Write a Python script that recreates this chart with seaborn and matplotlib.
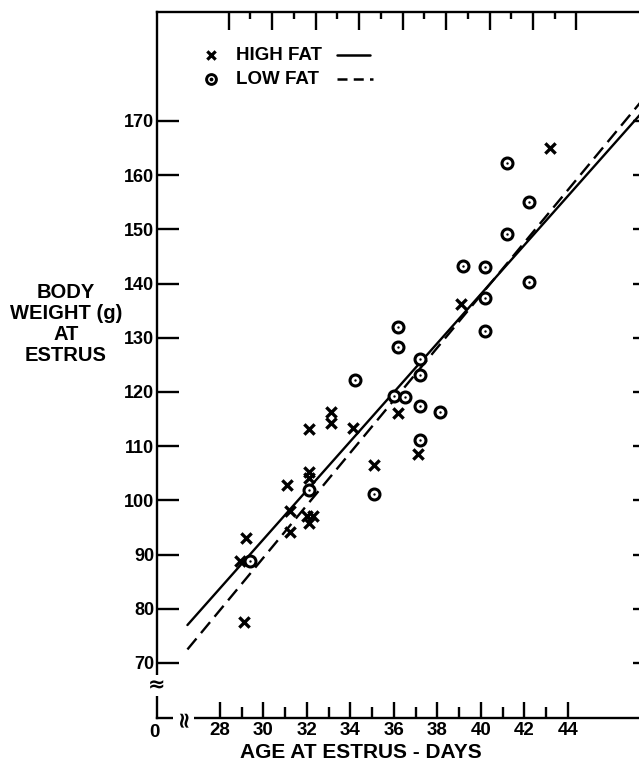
import matplotlib
matplotlib.use("Agg")
import matplotlib.pyplot as plt
import matplotlib.transforms as mtransforms
import numpy as np
import pandas as pd
import seaborn as sns

# ---------------- data ----------------
hf_age = [29.1, 28.9, 29.2, 31.1, 31.2, 31.2, 32.1, 32.1, 32.1, 32.0, 32.3, 32.1,
          33.1, 33.1, 34.1, 35.1, 36.2, 37.1, 39.1, 43.2]
hf_wt = [77.6, 88.8, 93.0, 102.9, 98.0, 94.1, 113.1, 105.2, 104.2, 97.1, 97.1, 95.8,
         116.3, 114.3, 113.3, 106.5, 116.2, 108.5, 136.3, 165.0]

lf_age = [29.4, 32.1, 35.1, 37.2, 34.2, 36.0, 36.5, 37.2, 38.1, 36.2, 36.2, 37.2,
          37.2, 39.2, 40.2, 40.2, 40.2, 41.2, 42.2, 41.2, 42.2]
lf_wt = [88.8, 102.0, 101.2, 111.2, 122.2, 119.2, 119.1, 117.4, 116.3, 132.0, 128.3,
         126.1, 123.2, 143.3, 143.1, 137.3, 131.3, 162.2, 155.1, 149.1, 140.3]

# fitted lines (end points)
hf_line_age = [26.5, 47.4]
hf_line_wt = [77.0, 171.5]
lf_line_age = [26.5, 47.4]
lf_line_wt = [72.5, 173.7]

x_major = [28, 30, 32, 34, 36, 38, 40, 42, 44]
x_minor = [29, 31, 33, 35, 37, 39, 41, 43]
y_ticks = [70, 80, 90, 100, 110, 120, 130, 140, 150, 160, 170]

legend_labels = ["HIGH FAT", "LOW FAT"]
x_label = "AGE AT ESTRUS - DAYS"
y_label = "BODY\nWEIGHT (g)\nAT\nESTRUS"

# ---------------- figure ----------------
sns.set_theme(style="white")
plt.rcParams["font.family"] = ["Liberation Sans", "DejaVu Sans"]
plt.rcParams["font.weight"] = "bold"
plt.rcParams["text.color"] = "black"
plt.rcParams["xtick.color"] = "black"
plt.rcParams["ytick.color"] = "black"

W, H = 639, 764
fig = plt.figure(figsize=(W / 100, H / 100), dpi=100)
ax_left, ax_right, ax_top, ax_bot = 157, 641, 12, 718
ax = fig.add_axes([ax_left / W, (H - ax_bot) / H, (ax_right - ax_left) / W, (ax_bot - ax_top) / H])
ax.set_facecolor("white")

hf = pd.DataFrame({"age": hf_age, "wt": hf_wt})
lf = pd.DataFrame({"age": lf_age, "wt": lf_wt})
hfl = pd.DataFrame({"age": hf_line_age, "wt": hf_line_wt})
lfl = pd.DataFrame({"age": lf_line_age, "wt": lf_line_wt})

sns.lineplot(data=hfl, x="age", y="wt", ax=ax, color="black", lw=1.7, zorder=2)
sns.lineplot(data=lfl, x="age", y="wt", ax=ax, color="black", lw=1.7, zorder=2,
             dashes=False, linestyle=(0, (6, 3)))
sns.scatterplot(data=lf, x="age", y="wt", ax=ax, marker="o", s=62, facecolor="white",
                edgecolor="black", linewidth=2.2, zorder=3)
sns.scatterplot(data=lf, x="age", y="wt", ax=ax, marker="o", s=3, color="black",
                edgecolor="black", linewidth=0, zorder=4)
sns.scatterplot(data=hf, x="age", y="wt", ax=ax, marker="x", s=55, color="black",
                linewidth=2.4, zorder=4)

ax.set_xlim(25.1, 47.37)
ax.set_ylim(59.85, 190.1)

for side in ["left", "bottom", "top", "right"]:
    ax.spines[side].set_visible(True)
    ax.spines[side].set_color("black")
    ax.spines[side].set_linewidth(1.7)

ax.set_xticks(x_major)
ax.set_xticks(x_minor, minor=True)
ax.set_xticklabels([str(v) for v in x_major], fontweight="bold")
ax.set_yticks(y_ticks)
ax.set_yticklabels([str(v) for v in y_ticks], fontweight="bold")
ax.tick_params(axis="x", which="major", direction="in", length=11.5, width=1.7,
               bottom=True, top=False, labelsize=13.5, pad=3, colors="black")
ax.tick_params(axis="x", which="minor", direction="in", length=8, width=1.7,
               bottom=True, top=False)
ax.tick_params(axis="y", which="major", direction="in", length=16, width=1.7,
               left=True, right=False, labelsize=13, pad=2, colors="black")

# top ticks (scan is slightly sheared, so top ticks sit a little right)
secx = ax.secondary_xaxis("top", functions=(lambda x: x - 0.4, lambda x: x + 0.4))
secx.set_xticks(x_major)
secx.set_xticks(x_minor, minor=True)
secx.tick_params(axis="x", which="major", direction="in", length=13, width=1.7, labeltop=False)
secx.tick_params(axis="x", which="minor", direction="in", length=5, width=1.7, labeltop=False)
secx.spines["top"].set_visible(False)

secy = ax.secondary_yaxis("right")
secy.set_yticks(y_ticks)
secy.tick_params(axis="y", which="major", direction="in", length=6, width=1.7, labelright=False)

ax.set_xlabel("")
ax.set_ylabel("")

# axis break marks
blend_y = mtransforms.blended_transform_factory(ax.transAxes, ax.transData)
ax.text(0, 65.8, "\u2248", transform=blend_y, ha="center", va="center", fontsize=15,
        fontfamily="DejaVu Sans", fontweight="bold", clip_on=False, zorder=6,
        bbox=dict(facecolor="white", edgecolor="none", pad=0.3))
blend_x = mtransforms.blended_transform_factory(ax.transData, ax.transAxes)
ax.text(26.3, 0, "\u2248", transform=blend_x, ha="center", va="center", fontsize=16,
        fontfamily="DejaVu Sans", fontweight="bold", rotation=90, clip_on=False, zorder=6,
        bbox=dict(facecolor="white", edgecolor="none", pad=0.3))
ax.annotate("0", xy=(0, 0), xycoords="axes fraction", xytext=(-2, -4),
            textcoords="offset points", ha="center", va="top", fontsize=13.5,
            fontweight="bold")

# legend drawn inside the axes
def ax_xy(px, py):
    return ((px - ax_left) / (ax_right - ax_left), (ax_bot - py) / (ax_bot - ax_top))

mx, my1 = ax_xy(211, 55)
_, my2 = ax_xy(211, 79)
tx, _ = ax_xy(236, 0)
ax.scatter([mx], [my1], transform=ax.transAxes, marker="x", s=36, color="black",
           linewidth=2.3, clip_on=False, zorder=5)
ax.scatter([mx], [my2], transform=ax.transAxes, marker="o", s=50, facecolor="white",
           edgecolor="black", linewidth=2.1, clip_on=False, zorder=5)
ax.scatter([mx], [my2], transform=ax.transAxes, marker="o", s=3, color="black",
           clip_on=False, zorder=6)
ax.text(tx, my1, legend_labels[0], transform=ax.transAxes, ha="left", va="center",
        fontsize=13.5, fontweight="bold")
ax.text(tx, my2, legend_labels[1], transform=ax.transAxes, ha="left", va="center",
        fontsize=13.5, fontweight="bold")
l0, _ = ax_xy(337, 0)
l1, _ = ax_xy(370, 0)
l2, _ = ax_xy(373, 0)
ax.plot([l0, l1], [my1, my1], transform=ax.transAxes, color="black", lw=1.8)
ax.plot([l0, l2], [my2, my2], transform=ax.transAxes, color="black", lw=1.8,
        linestyle=(0, (4, 2.5)))

# axis titles
fig.text(361 / W, 1 - 753 / H, x_label, ha="center", va="center", fontsize=15,
         fontweight="bold")
fig.text(66 / W, 1 - 324 / H, y_label, ha="center", va="center", fontsize=14.5,
         fontweight="bold", multialignment="center", linespacing=1.12)

fig.savefig("out.png", dpi=100, facecolor="white")
